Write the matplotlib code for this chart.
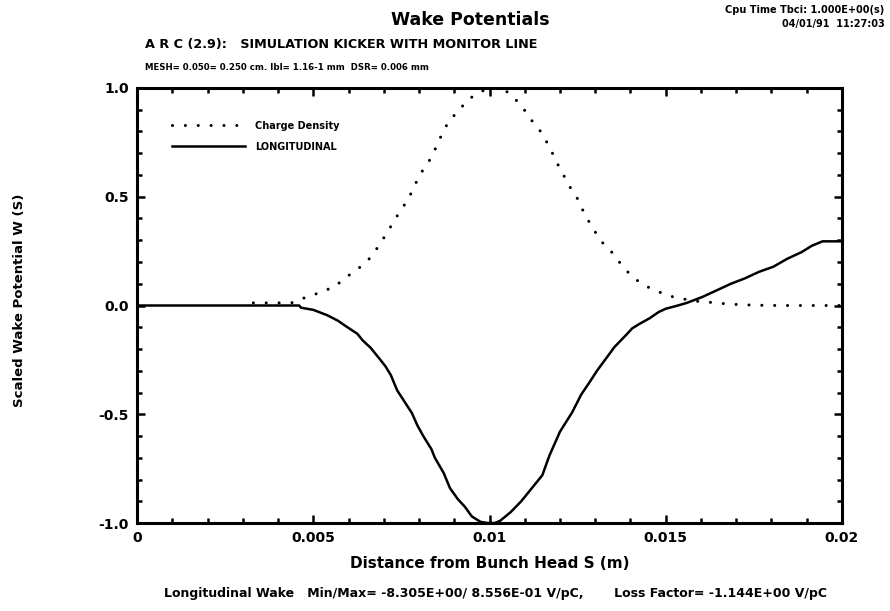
import numpy as np
import matplotlib
matplotlib.use("Agg")
import matplotlib.pyplot as plt
from matplotlib.ticker import MultipleLocator, FixedLocator

# Longitudinal charge density along the bunch (position in mm, normalised)
charge_x_mm = [3.3, 3.7, 4.1, 4.4, 4.65, 4.95, 5.3, 5.6, 5.85, 6.15, 6.4, 6.65,
               6.9, 7.15, 7.45, 7.7, 7.9, 8.1, 8.35, 8.6, 8.85, 9.1, 9.35, 9.6,
               9.85, 10.1, 10.35, 10.6, 10.9, 11.2, 11.45, 11.7, 11.9, 12.1, 12.3,
               12.5, 12.7, 12.95, 13.2, 13.5, 13.8, 14.1, 14.45, 14.8, 15.15, 15.5,
               15.85, 16.3, 16.7, 17.2, 17.7, 18.2, 18.7, 19.2, 19.6, 20.0]
charge_density = [0.012, 0.012, 0.012, 0.013, 0.03, 0.045, 0.068, 0.085, 0.12, 0.155,
                  0.185, 0.225, 0.285, 0.35, 0.43, 0.49, 0.56, 0.62, 0.68, 0.77,
                  0.85, 0.89, 0.94, 0.97, 0.99, 1.0, 1.0, 0.97, 0.92, 0.85,
                  0.80, 0.73, 0.66, 0.60, 0.54, 0.49, 0.42, 0.35, 0.29, 0.24,
                  0.175, 0.125, 0.088, 0.063, 0.042, 0.03, 0.02, 0.014, 0.008, 0.003,
                  0.001, 0.0, 0.0, 0.0, 0.0, 0.0]

# Scaled longitudinal wake potential
wake_x_mm = [0, 4.6, 4.65, 5.0, 5.4, 5.7, 5.95, 6.25, 6.4, 6.63,
             6.88, 7.05, 7.2, 7.38, 7.6, 7.8, 7.95, 8.12, 8.35, 8.45,
             8.7, 8.88, 9.1, 9.3, 9.5, 9.75, 9.95, 10.15, 10.3, 10.6,
             10.9, 11.2, 11.5, 11.7, 12.0, 12.35, 12.6, 12.85, 13.05, 13.3,
             13.55, 13.85, 14.05, 14.25, 14.55, 14.8, 15.0, 15.3, 15.6, 16.05,
             16.45, 16.85, 17.25, 17.65, 18.05, 18.45, 18.85, 19.15, 19.45, 20.0]
wake_longitudinal = [0, 0, -0.01, -0.02, -0.045, -0.07, -0.098, -0.13, -0.16, -0.195,
                     -0.245, -0.28, -0.32, -0.39, -0.445, -0.495, -0.55, -0.60, -0.66, -0.70,
                     -0.77, -0.84, -0.89, -0.925, -0.97, -0.995, -1.0, -1.0, -0.99, -0.95,
                     -0.9, -0.84, -0.78, -0.69, -0.58, -0.49, -0.41, -0.35, -0.30, -0.245,
                     -0.19, -0.14, -0.105, -0.085, -0.058, -0.03, -0.015, -0.002, 0.012, 0.04,
                     0.07, 0.10, 0.125, 0.155, 0.178, 0.215, 0.245, 0.275, 0.295, 0.295]

x_ticks = [0, 0.005, 0.01, 0.015, 0.02]
x_tick_labels = ["0", "0.005", "0.01", "0.015", "0.02"]
y_ticks = [-1.0, -0.5, 0.0, 0.5, 1.0]
y_tick_labels = ["-1.0", "-0.5", "0.0", "0.5", "1.0"]

plt.rcParams["font.family"] = ["DejaVu Sans"]
plt.rcParams["font.weight"] = "bold"

fig = plt.figure(figsize=(8.9, 6.11), dpi=100)
ax = fig.add_axes([0.154, 0.144, 0.792, 0.712])

mm = 1e-3
ax.plot(np.array(charge_x_mm) * mm, charge_density, color="black",
        linewidth=2.2, linestyle=(0, (0.01, 4.2)), dash_capstyle="round",
        label="Charge Density")
ax.plot(np.array(wake_x_mm) * mm, wake_longitudinal, color="black",
        linewidth=1.8, label="LONGITUDINAL")

ax.set_xlim(0, 0.02)
ax.set_ylim(-1.0, 1.0)
ax.xaxis.set_major_locator(FixedLocator(x_ticks))
ax.set_xticklabels(x_tick_labels)
ax.yaxis.set_major_locator(FixedLocator(y_ticks))
ax.set_yticklabels(y_tick_labels)
ax.xaxis.set_minor_locator(MultipleLocator(0.001))
ax.yaxis.set_minor_locator(MultipleLocator(0.1))
ax.tick_params(which="both", direction="in", top=True, right=True, width=1.8,
               labelsize=10, pad=6)
ax.tick_params(which="major", length=6)
ax.tick_params(which="minor", length=3.5)
for lab in ax.get_xticklabels() + ax.get_yticklabels():
    lab.set_fontweight("bold")
for sp in ax.spines.values():
    sp.set_linewidth(2.2)

ax.set_xlabel("Distance from Bunch Head S (m)", fontsize=11, fontweight="bold",
              labelpad=8)
fig.text(0.022, 0.509, "Scaled Wake Potential W (S)", rotation=90, fontsize=9.5,
         fontweight="bold", ha="center", va="center")

leg = ax.legend(loc="upper left", bbox_to_anchor=(0.05, 0.925), frameon=False,
                fontsize=7, handlelength=7.5, labelspacing=1.15, borderpad=0,
                borderaxespad=0, handletextpad=1.0)
for t in leg.get_texts():
    t.set_fontweight("bold")

fig.text(0.528, 0.967, "Wake Potentials", fontsize=12.5, fontweight="bold",
         ha="center", va="center")
fig.text(0.994, 0.984, "Cpu Time Tbci: 1.000E+00(s)", fontsize=7,
         fontweight="bold", ha="right", va="center")
fig.text(0.994, 0.960, "04/01/91  11:27:03", fontsize=7,
         fontweight="bold", ha="right", va="center")
fig.text(0.163, 0.927, "A R C (2.9):   SIMULATION KICKER WITH MONITOR LINE",
         fontsize=9.2, fontweight="bold", ha="left", va="center")
fig.text(0.163, 0.890, "MESH= 0.050= 0.250 cm. Ibl= 1.16-1 mm  DSR= 0.006 mm",
         fontsize=6.2, fontweight="bold", ha="left", va="center")
fig.text(0.557, 0.028,
         "Longitudinal Wake   Min/Max= -8.305E+00/ 8.556E-01 V/pC,"
         "       Loss Factor= -1.144E+00 V/pC",
         fontsize=9, fontweight="bold", ha="center", va="center")

fig.savefig("out.png", dpi=100)
